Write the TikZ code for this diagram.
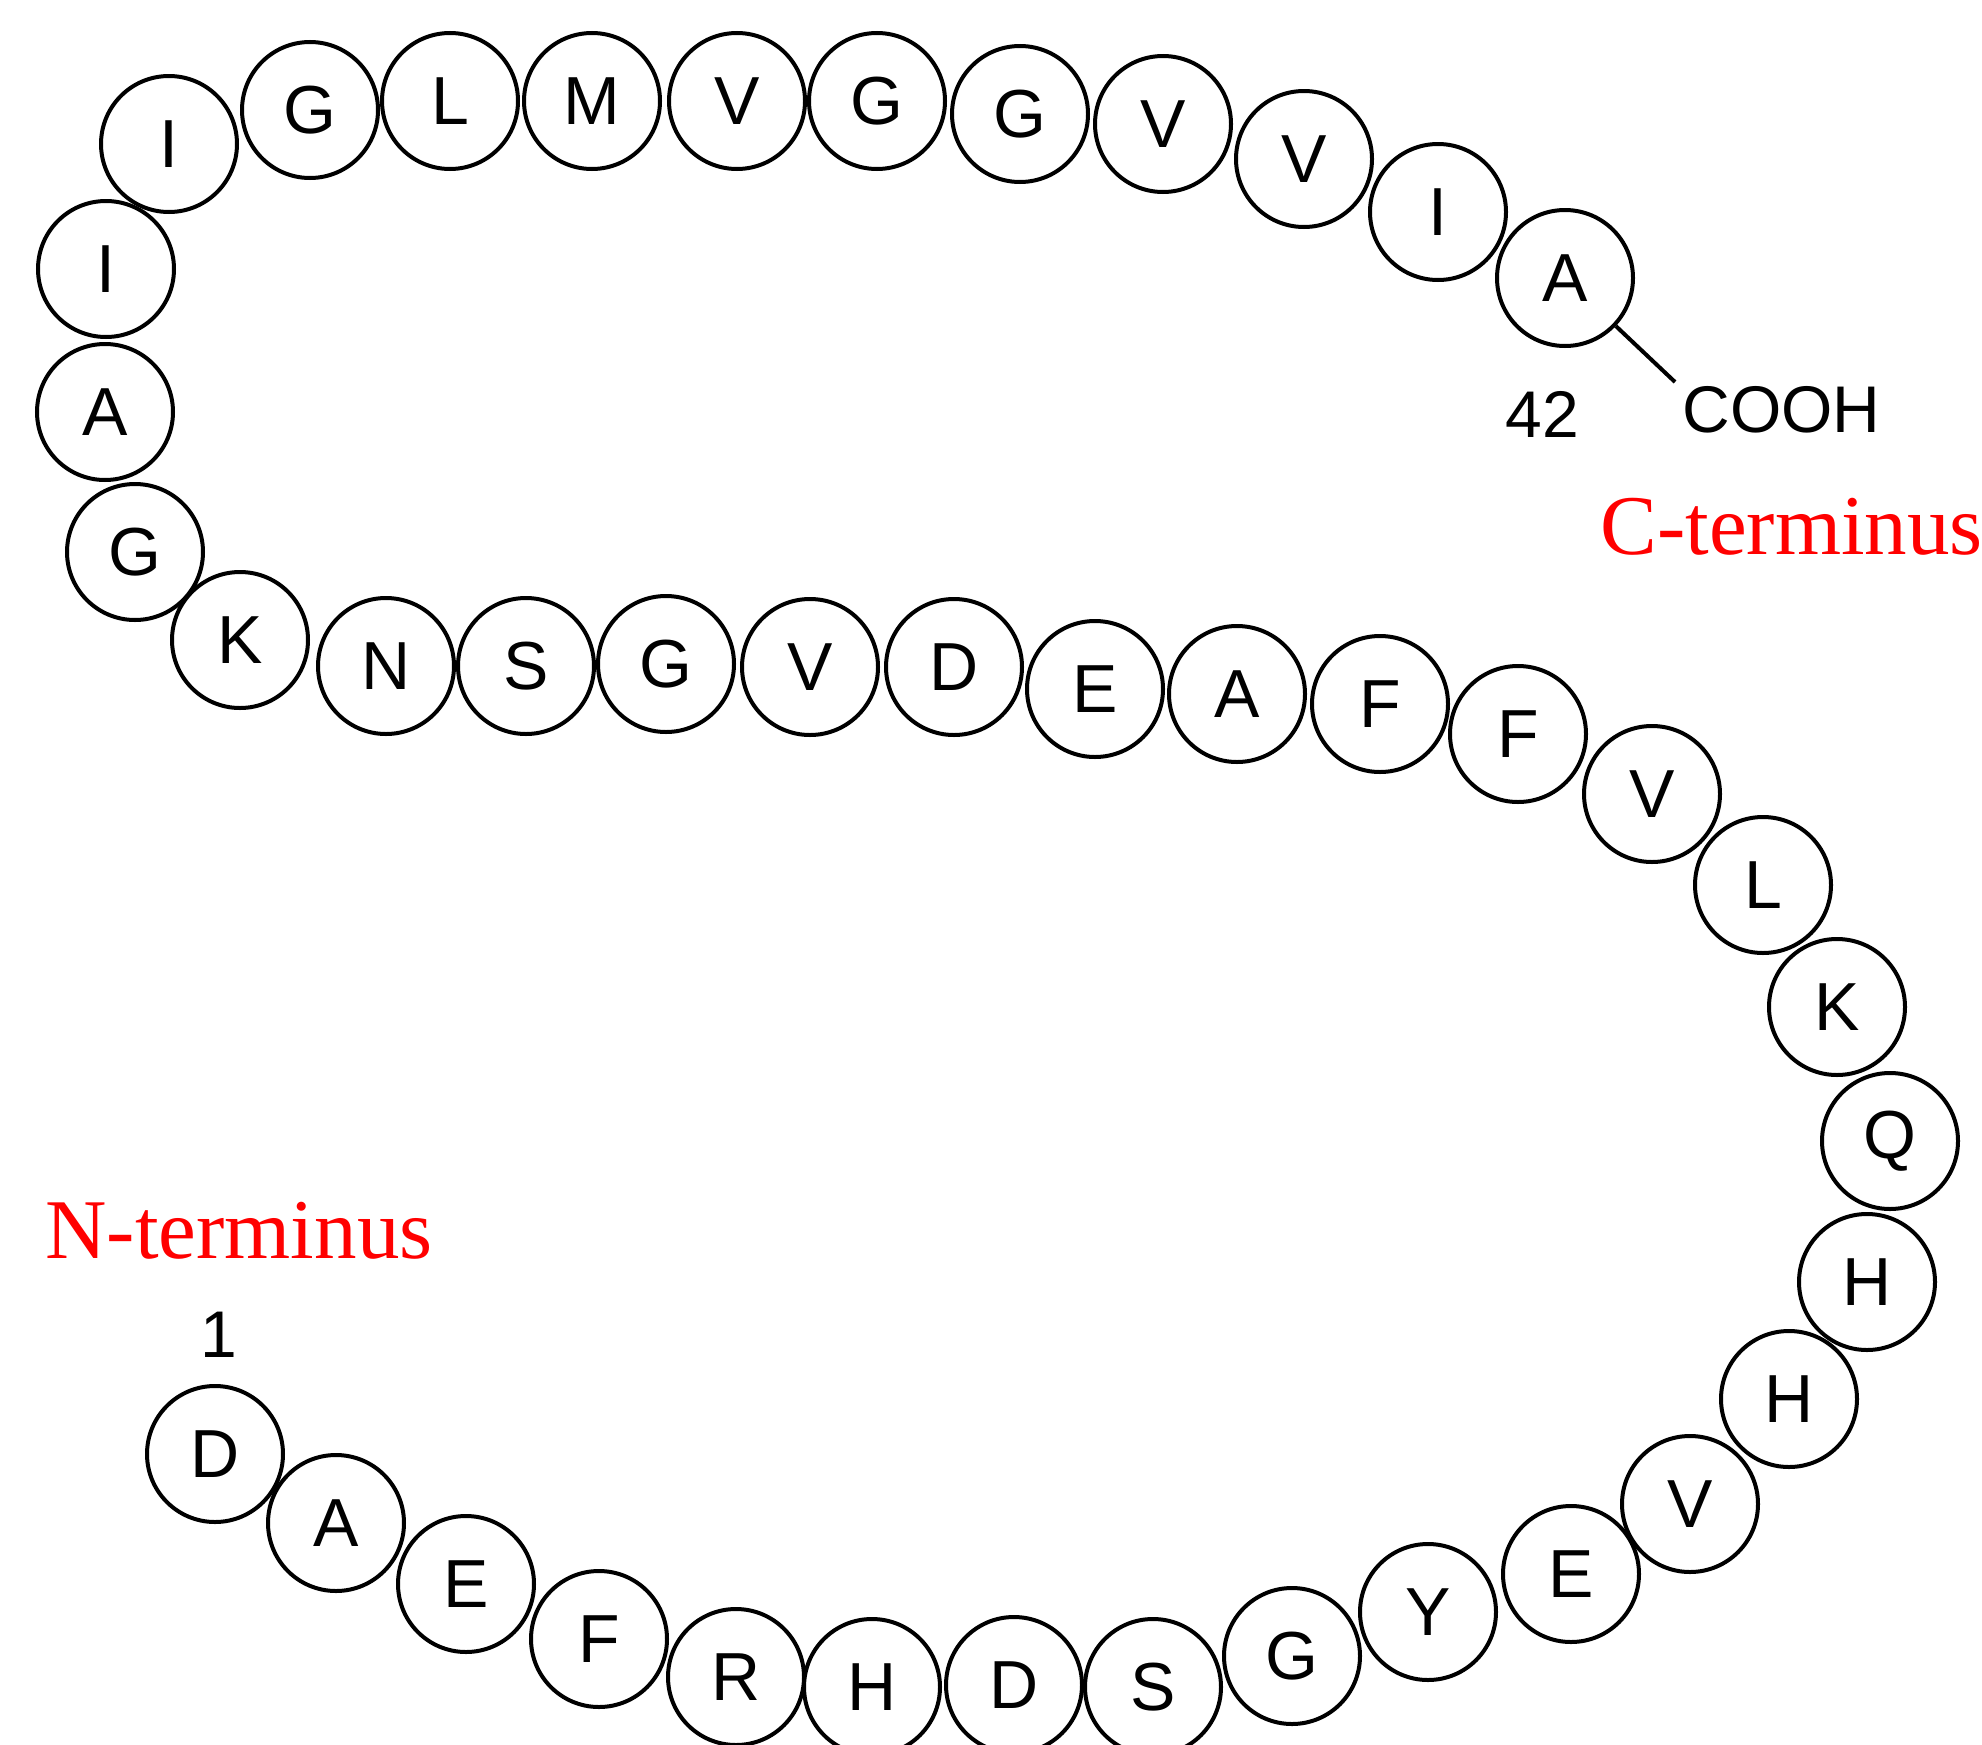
\documentclass[tikz,border=0pt]{standalone}
\usepackage{fontspec}
\setmainfont{Liberation Sans}
\newfontfamily\serifx{Liberation Serif}
\begin{document}
\begin{tikzpicture}[x=0.5pt,y=-0.5pt,
  res/.style={circle,draw=black,line width=2pt,minimum size=68pt,inner sep=0pt,font=\fontsize{34}{34}\selectfont},
  lbl/.style={inner sep=0pt,anchor=base west,font=\fontsize{33}{33}\selectfont},
  term/.style={inner sep=0pt,anchor=base west,text=red,font=\serifx\fontsize{42.5}{42.5}\selectfont}]
\useasboundingbox (0,0) rectangle (1982,1745);
\foreach \l/\x/\y [count=\i] in {
 D/215/1454, A/336/1523, E/466/1584, F/599/1639, R/736/1677, H/872/1687,
 D/1014/1685, S/1153/1687, G/1292/1656, Y/1428/1612, E/1571/1574, V/1690/1504,
 H/1789/1399, H/1867/1282, Q/1890/1141, K/1837/1007, L/1763/885, V/1652/794,
 F/1518/734, F/1380/704, A/1237/694, E/1095/689, D/954/667, V/810/667,
 G/666/664, S/526/666, N/386/666, K/240/640, G/135/552, A/105/412,
 I/106/269, I/169/144, G/310/110, L/450/101, M/592/101, V/737/101,
 G/877/101, G/1020/114, V/1163/124, V/1304/159, I/1438/212, A/1565/278}
 \node[res] (r\i) at (\x,\y) {\l};
\node[lbl] (n42) at (1505,437) {42};
\node[lbl] (cooh) at (1682,432) {COOH};
\coordinate (cend) at (1675,382);
\draw[line width=2pt] (r42) -- (cend);
\node[lbl] (n1) at (200,1357) {1};
\node[term] (cterm) at (1600,554) {C-terminus};
\node[term] (nterm) at (45,1258) {N-terminus};
\end{tikzpicture}
\end{document}
